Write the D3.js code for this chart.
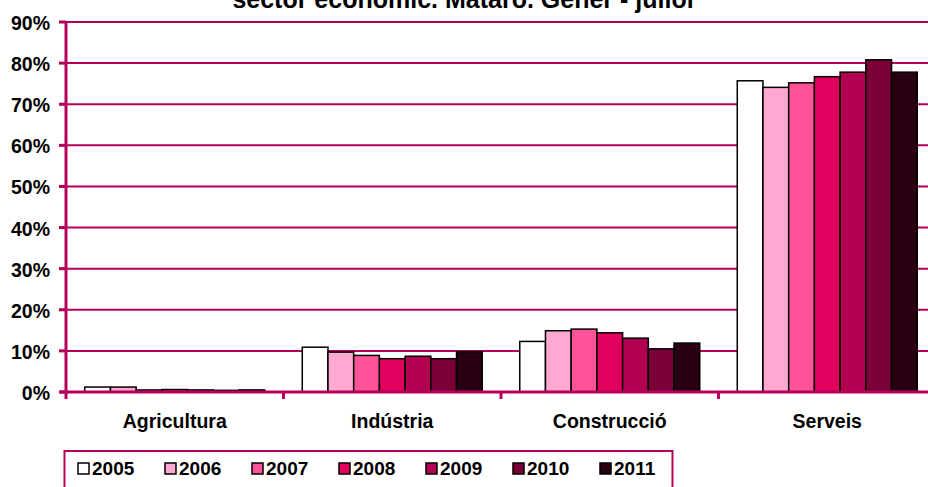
<!DOCTYPE html>
<html>
<head>
<meta charset="utf-8">
<script src="https://cdn.jsdelivr.net/npm/d3@7"></script>
<style>
  body { margin: 0; background: #fff; }
  svg { display: block; font-family: "Liberation Sans", Arial, sans-serif; font-weight: bold; }
</style>
</head>
<body>
<div id="chart"></div>
<script>
// data
var categories = ["Agricultura", "Indústria", "Construcció", "Serveis"];
var years = ["2005", "2006", "2007", "2008", "2009", "2010", "2011"];
var colors = ["#ffffff", "#ffa8d2", "#ff5399", "#e2005f", "#b0004f", "#7b0037", "#280012"];
// percentages per year, one value per category
var values = {
  "2005": [1.2, 10.9, 12.3, 75.7],
  "2006": [1.2, 9.7, 14.9, 74.1],
  "2007": [0.5, 8.9, 15.3, 75.2],
  "2008": [0.6, 8.1, 14.4, 76.7],
  "2009": [0.5, 8.7, 13.1, 77.8],
  "2010": [0.4, 8.1, 10.5, 80.8],
  "2011": [0.5, 9.8, 11.9, 77.8]
};
var yTicks = [0, 10, 20, 30, 40, 50, 60, 70, 80, 90];

var width = 928, height = 487;
var axisColor = "#b4005a";

var svg = d3.select("#chart").append("svg")
    .attr("width", width)
    .attr("height", height);

var x = d3.scaleBand().domain(categories).range([66, 936]).padding(0);
var x1 = d3.scaleBand().domain(years).range([0, x.bandwidth()])
    .paddingInner(0).paddingOuter(0.73);
var y = d3.scaleLinear().domain([0, 90]).range([392, 22]);

// title (second line, top cut off)
svg.append("text")
    .attr("x", 463).attr("y", 8)
    .attr("text-anchor", "middle")
    .style("font-size", "25px")
    .text("sector econòmic. Mataró. Gener - juliol");

// gridlines
svg.append("g").selectAll("line")
    .data(yTicks.filter(function(d) { return d > 0; }))
  .enter().append("line")
    .attr("x1", 60).attr("x2", 936)
    .attr("y1", function(d) { return y(d); })
    .attr("y2", function(d) { return y(d); })
    .style("stroke", axisColor)
    .style("stroke-width", 2);

// y labels
svg.append("g").selectAll("text")
    .data(yTicks)
  .enter().append("text")
    .attr("x", 50)
    .attr("y", function(d) { return y(d) + 8; })
    .attr("text-anchor", "end")
    .style("font-size", "19.5px")
    .text(function(d) { return d + "%"; });

// bars
var groups = svg.append("g").selectAll("g")
    .data(years)
  .enter().append("g");

groups.selectAll("rect")
    .data(function(yr, i) {
      return categories.map(function(c, j) { return {year: yr, cat: c, v: values[yr][j], color: colors[i]}; });
    })
  .enter().append("rect")
    .attr("x", function(d) { return x(d.cat) + x1(d.year); })
    .attr("y", function(d) { return y(d.v); })
    .attr("width", x1.bandwidth())
    .attr("height", function(d) { return y(0) - y(d.v); })
    .style("fill", function(d) { return d.color; })
    .style("stroke", "#000")
    .style("stroke-width", 1.5);

// axes lines
svg.append("line")
    .attr("x1", 66).attr("x2", 66).attr("y1", 21).attr("y2", 399)
    .style("stroke", axisColor).style("stroke-width", 3);
svg.append("line")
    .attr("x1", 60).attr("x2", 936).attr("y1", 392).attr("y2", 392)
    .style("stroke", axisColor).style("stroke-width", 3);

// y ticks
svg.append("g").selectAll("line")
    .data(yTicks)
  .enter().append("line")
    .attr("x1", 59).attr("x2", 66)
    .attr("y1", function(d) { return y(d); })
    .attr("y2", function(d) { return y(d); })
    .style("stroke", axisColor).style("stroke-width", 3);

// x ticks at category boundaries
svg.append("g").selectAll("line")
    .data(categories.slice(1))
  .enter().append("line")
    .attr("x1", function(d) { return x(d); })
    .attr("x2", function(d) { return x(d); })
    .attr("y1", 392).attr("y2", 399)
    .style("stroke", axisColor).style("stroke-width", 3);

// category labels
svg.append("g").selectAll("text")
    .data(categories)
  .enter().append("text")
    .attr("x", function(d) { return x(d) + x.bandwidth() / 2; })
    .attr("y", 428)
    .attr("text-anchor", "middle")
    .style("font-size", "19.5px")
    .text(function(d) { return d; });

// legend
svg.append("rect")
    .attr("x", 64.5).attr("y", 451)
    .attr("width", 608).attr("height", 45)
    .style("fill", "none")
    .style("stroke", axisColor).style("stroke-width", 2);

var leg = svg.append("g").selectAll("g")
    .data(years)
  .enter().append("g")
    .attr("transform", function(d, i) { return "translate(" + (78 + i * 87) + ",463)"; });

leg.append("rect")
    .attr("width", 11).attr("height", 11)
    .style("fill", function(d, i) { return colors[i]; })
    .style("stroke", "#000").style("stroke-width", 1.5);

leg.append("text")
    .attr("x", 14).attr("y", 12)
    .style("font-size", "19px")
    .text(function(d) { return d; });
</script>
</body>
</html>
